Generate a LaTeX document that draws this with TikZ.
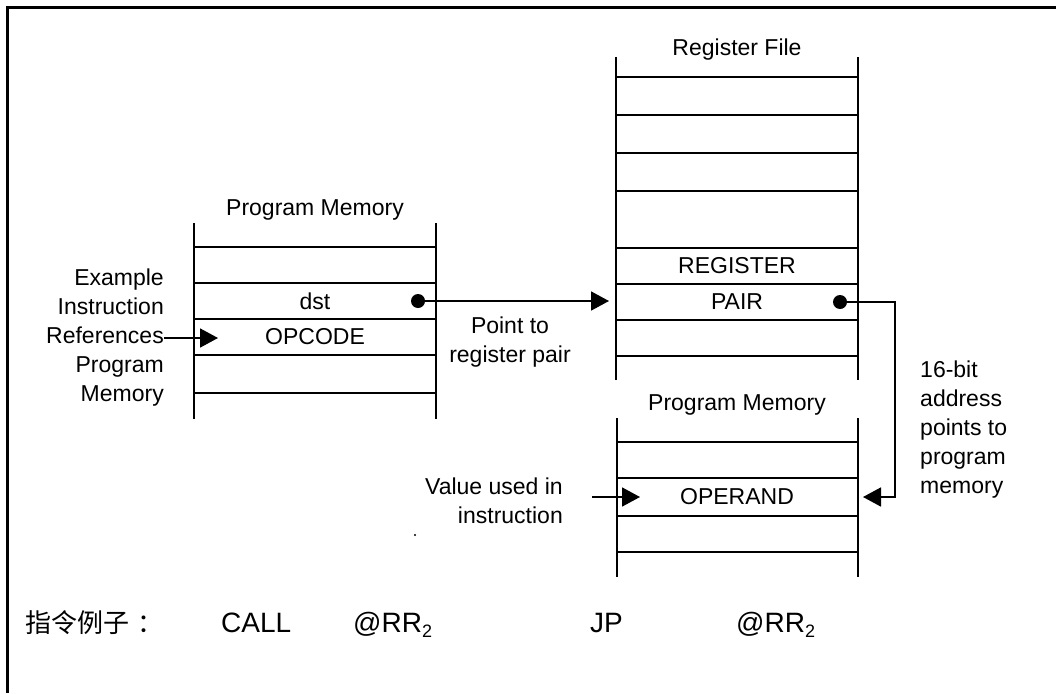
\documentclass[tikz,border=0pt]{standalone}
\usepackage{fontspec}
\setmainfont{Liberation Sans}
\newfontfamily\cjkfont{Noto Sans CJK SC}
\usetikzlibrary{arrows.meta}
\newcommand{\subtwo}{\raisebox{-0.2em}{\fontsize{18}{18}\selectfont 2}}
\begin{document}
\begin{tikzpicture}[x=1pt,y=-1pt,
  memline/.style={line width=2.2pt, black},
  lbl/.style={inner sep=0pt, font=\fontsize{23}{29}\selectfont},
  conn/.style={line width=1.7pt, -{Triangle[length=18pt,width=19pt]}},
  dotnode/.style={circle, fill=black, inner sep=0pt, minimum size=14pt},
  frameline/.style={line width=3pt},
  bottomlbl/.style={inner sep=0pt, anchor=base west, font=\fontsize{28}{28}\selectfont},
  cjklbl/.style={inner sep=0pt, anchor=base west, font=\cjkfont\fontsize{26}{26}\selectfont}]
\useasboundingbox (0,0) rectangle (1056,693);
\fill[white] (0,0) rectangle (1056,693);
\draw[frameline] (7,693) -- (7,8) -- (1056,8);

% ---- left program memory block
\draw[memline] (194,223) -- (194,419) (436,223) -- (436,419);
\foreach \y in {247,283,319,355,393} \draw[memline] (194,\y) -- (436,\y);
\node[lbl] (pm1) at (315,210) {Program Memory};
\node[lbl] (dst) at (315,301) {dst};
\node[lbl] (opc) at (315,337) {OPCODE};
\node[lbl, anchor=east, align=right] (ex) at (164,338) {Example\\Instruction\\References\\Program\\Memory};
\coordinate (t0) at (218,338);
\draw[conn] (ex.east) -- (t0);

% ---- register file
\draw[memline] (616,57) -- (616,380) (858,57) -- (858,380);
\foreach \y in {77,115,153,191,248,284,320,356} \draw[memline] (616,\y) -- (858,\y);
\node[lbl] (rf) at (737,50) {Register File};
\node[lbl] (reg) at (737,266) {REGISTER};
\node[lbl] (pair) at (737,302) {PAIR};

% ---- dst -> register pair
\node[dotnode] (d1) at (418,301) {};
\coordinate (t1) at (609,301);
\draw[conn] (d1.center) -- (t1);
\node[lbl, align=center] (pt) at (510,342) {Point to\\register pair};

% ---- lower program memory block
\draw[memline] (617,418) -- (617,577) (858,418) -- (858,577);
\foreach \y in {442,478,516,552} \draw[memline] (617,\y) -- (858,\y);
\node[lbl] (pm2) at (737,405) {Program Memory};
\node[lbl] (opd) at (737,497) {OPERAND};
\coordinate (s3) at (592,497);
\coordinate (t3) at (640,497);
\draw[conn] (s3) -- (t3);
\node[lbl, anchor=east, align=right] (val) at (563,501) {Value used in\\instruction};
\fill (415,535) circle (1.2);

% ---- pair -> operand
\node[dotnode] (d2) at (840,302) {};
\coordinate (t2) at (863,497);
\draw[conn] (d2.center) -- ++(55,0) |- (t2);
\node[lbl, anchor=west, align=left] (bit) at (920,430) {16-bit\\address\\points to\\program\\memory};

% ---- bottom line
\node[cjklbl] (zh) at (25,632) {指令例子\kern8pt：};
\node[bottomlbl] (call) at (221,632) {CALL};
\node[bottomlbl] (rr1) at (353,632) {@RR\subtwo};
\node[bottomlbl] (jp) at (590,632) {JP};
\node[bottomlbl] (rr2) at (736,632) {@RR\subtwo};
\end{tikzpicture}
\end{document}
